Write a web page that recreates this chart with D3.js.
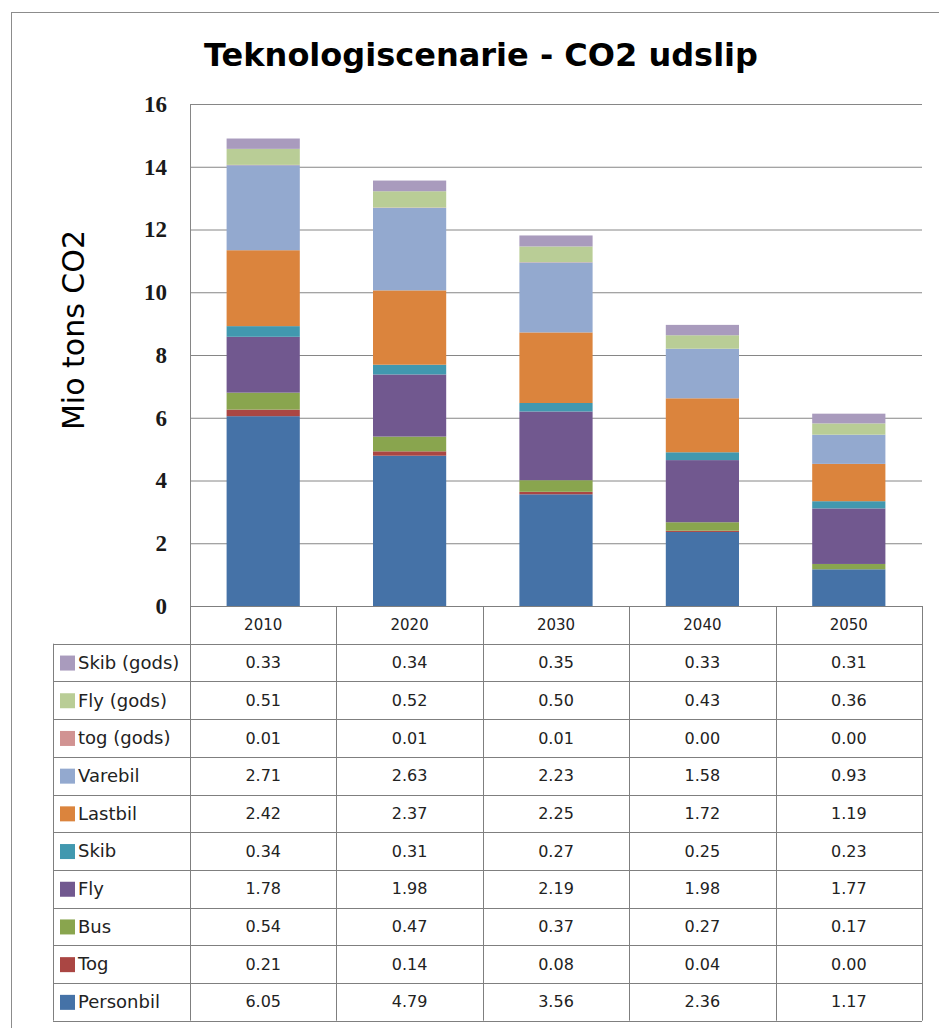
<!doctype html>
<html lang="da">
<head>
  <meta charset="utf-8">
  <title>Teknologiscenarie - CO2 udslip</title>
  <script src="https://d3js.org/d3.v7.min.js"></script>
  <style>
    body { margin: 0; background: #fff; }
  </style>
</head>
<body>
<div id="chart"></div>
<script>
// data (Mio tons CO2)
const years = ["2010", "2020", "2030", "2040", "2050"];
const seriesNames = ["Personbil", "Tog", "Bus", "Fly", "Skib", "Lastbil", "Varebil", "tog (gods)", "Fly (gods)", "Skib (gods)"];
const personbil = [6.05, 4.79, 3.56, 2.36, 1.17];
const tog = [0.21, 0.14, 0.08, 0.04, 0.00];
const bus = [0.54, 0.47, 0.37, 0.27, 0.17];
const fly = [1.78, 1.98, 2.19, 1.98, 1.77];
const skib = [0.34, 0.31, 0.27, 0.25, 0.23];
const lastbil = [2.42, 2.37, 2.25, 1.72, 1.19];
const varebil = [2.71, 2.63, 2.23, 1.58, 0.93];
const togGods = [0.01, 0.01, 0.01, 0.00, 0.00];
const flyGods = [0.51, 0.52, 0.50, 0.43, 0.36];
const skibGods = [0.33, 0.34, 0.35, 0.33, 0.31];
const yTicks = [0, 2, 4, 6, 8, 10, 12, 14, 16];

const seriesValues = [personbil, tog, bus, fly, skib, lastbil, varebil, togGods, flyGods, skibGods];
const colors = ["#4572A7", "#AA4643", "#89A54E", "#71588F", "#4198AF", "#DB843D", "#93A9CF", "#D19392", "#B9CD96", "#A99BBD"];

const W = 939, H = 1028;
const plot = { left: 190, right: 922, top: 104, bottom: 606 };
const rowH = 37.7;

const svg = d3.select("#chart").append("svg")
    .attr("width", W)
    .attr("height", H);

// outer frame
svg.append("rect")
    .attr("x", 11.5).attr("y", 12.5)
    .attr("width", W + 20).attr("height", H + 20)
    .attr("fill", "none").attr("stroke", "#8c8c8c").attr("stroke-width", 1);

svg.append("text")
    .attr("x", 481).attr("y", 66)
    .attr("text-anchor", "middle")
    .style("font-family", "'DejaVu Sans', sans-serif")
    .style("font-weight", "bold")
    .style("font-size", "32px")
    .text("Teknologiscenarie - CO2 udslip");

// build rows for stacking
const rows = years.map((yr, i) => {
  const r = { year: yr };
  seriesNames.forEach((s, j) => { r[s] = seriesValues[j][i]; });
  return r;
});
const stacked = d3.stack().keys(seriesNames)(rows);
const color = d3.scaleOrdinal().domain(seriesNames).range(colors);

const x = d3.scaleBand().domain(years)
    .range([plot.left, plot.right])
    .paddingInner(0.5).paddingOuter(0.25);
const col = d3.scaleBand().domain(years).range([plot.left, plot.right]);
const y = d3.scaleLinear().domain([0, 16]).range([plot.bottom, plot.top]);

// gridlines
svg.append("g")
    .attr("transform", "translate(" + plot.left + ",0)")
    .call(d3.axisLeft(y).tickValues(yTicks).tickSize(-(plot.right - plot.left)).tickFormat(""))
    .call(g => g.select(".domain").remove())
    .selectAll("line").attr("stroke", "#868686");

// plot border (left)
svg.append("line")
    .attr("x1", plot.left + 0.5).attr("x2", plot.left + 0.5)
    .attr("y1", plot.top).attr("y2", plot.bottom)
    .attr("stroke", "#868686");

// bars
svg.append("g").selectAll("g")
    .data(stacked)
    .join("g")
    .attr("fill", d => color(d.key))
    .selectAll("rect")
    .data(d => d)
    .join("rect")
    .attr("x", d => x(d.data.year))
    .attr("width", x.bandwidth())
    .attr("y", d => y(d[1]))
    .attr("height", d => y(d[0]) - y(d[1]));

// y tick labels
const yAxis = svg.append("g")
    .attr("transform", "translate(" + (plot.left - 23) + ",0)")
    .call(d3.axisLeft(y).tickValues(yTicks).tickSize(0).tickPadding(0));
yAxis.select(".domain").remove();
yAxis.selectAll("text")
    .style("font-family", "'Liberation Serif', 'DejaVu Serif', serif")
    .style("font-weight", "bold")
    .style("font-size", "23px")
    .attr("fill", "#1a1a1a");

svg.append("text")
    .attr("transform", "translate(84,330) rotate(-90)")
    .attr("text-anchor", "middle")
    .style("font-family", "'DejaVu Sans', sans-serif")
    .style("font-size", "30px")
    .text("Mio tons CO2");

// data table
const table = svg.append("g");
const tableTop = plot.bottom;
const labelLeft = 53;
const nRows = seriesNames.length;
const tableBottom = tableTop + rowH * (nRows + 1);
const lineColor = "#7f7f7f";

// horizontal lines
const hLines = d3.range(nRows + 2).map(i => tableTop + i * rowH);
table.selectAll("line.h")
    .data(hLines)
    .join("line")
    .attr("class", "h")
    .attr("x1", (d, i) => i <= 0 ? plot.left : labelLeft)
    .attr("x2", plot.right)
    .attr("y1", d => Math.round(d) + 0.5).attr("y2", d => Math.round(d) + 0.5)
    .attr("stroke", lineColor);

// vertical lines
const vLines = years.map(yr => col(yr)).concat([plot.right]);
table.selectAll("line.v")
    .data(vLines)
    .join("line")
    .attr("class", "v")
    .attr("x1", d => Math.round(d) + 0.5).attr("x2", d => Math.round(d) + 0.5)
    .attr("y1", tableTop).attr("y2", tableBottom)
    .attr("stroke", lineColor);
table.append("line")
    .attr("x1", labelLeft + 0.5).attr("x2", labelLeft + 0.5)
    .attr("y1", tableTop + rowH).attr("y2", tableBottom)
    .attr("stroke", lineColor);

const cellFont = "'DejaVu Sans', sans-serif";

// header years
table.selectAll("text.yr")
    .data(years)
    .join("text")
    .attr("class", "yr")
    .attr("x", d => col(d) + col.bandwidth() / 2)
    .attr("y", tableTop + rowH / 2)
    .attr("dy", "0.35em")
    .attr("text-anchor", "middle")
    .style("font-family", cellFont)
    .style("font-size", "15px")
    .attr("fill", "#222")
    .text(d => d);

// rows, top row is the last series
const tableSeries = seriesNames.slice().reverse();
const rowG = table.selectAll("g.row")
    .data(tableSeries)
    .join("g")
    .attr("class", "row")
    .attr("transform", (d, i) => "translate(0," + (tableTop + rowH * (i + 1) + rowH / 2) + ")");

rowG.append("rect")
    .attr("x", 60).attr("y", -7)
    .attr("width", 15).attr("height", 15)
    .attr("fill", d => color(d));

rowG.append("text")
    .attr("x", 78)
    .attr("dy", "0.35em")
    .style("font-family", cellFont)
    .style("font-size", "18px")
    .attr("fill", "#222")
    .text(d => d);

rowG.selectAll("text.val")
    .data(d => years.map((yr, i) => ({ year: yr, v: seriesValues[seriesNames.indexOf(d)][i] })))
    .join("text")
    .attr("class", "val")
    .attr("x", d => col(d.year) + col.bandwidth() / 2)
    .attr("dy", "0.35em")
    .attr("text-anchor", "middle")
    .style("font-family", cellFont)
    .style("font-size", "16px")
    .attr("fill", "#222")
    .text(d => d.v.toFixed(2));
</script>
</body>
</html>
